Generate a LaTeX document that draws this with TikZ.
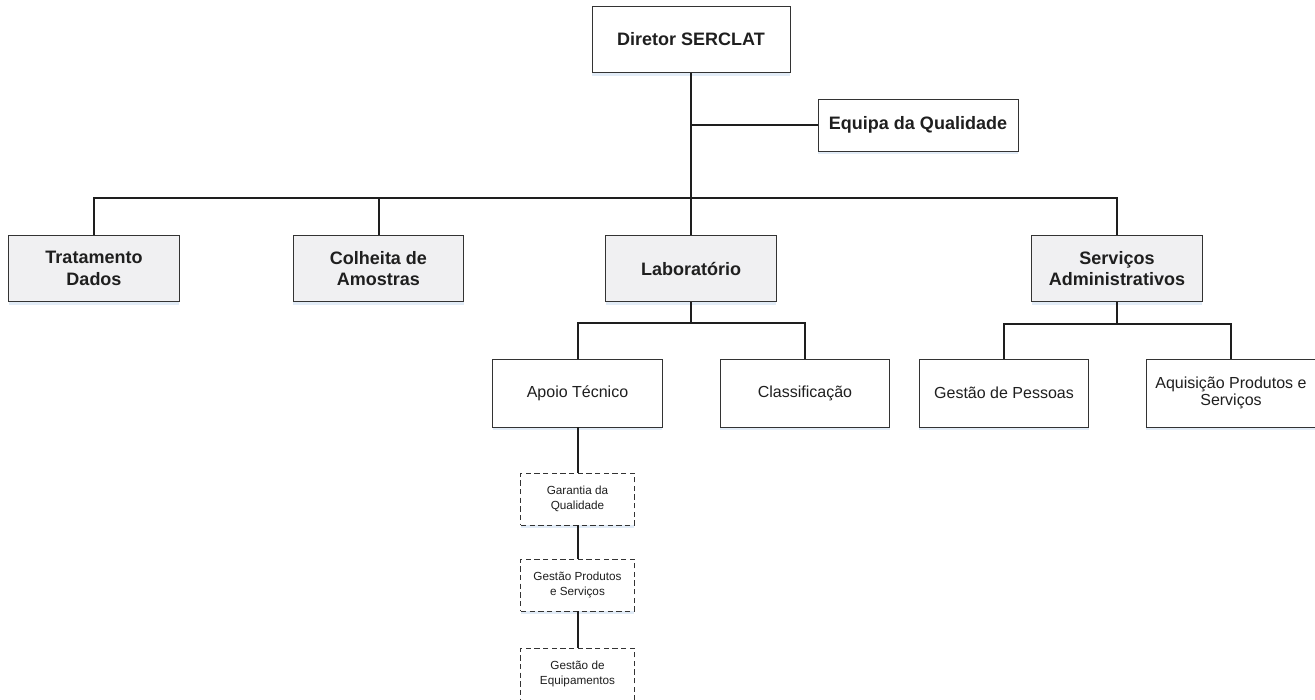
\documentclass[tikz,border=0pt]{standalone}
\usepackage{fontspec}
\setmainfont{Liberation Sans}
\usepackage{xcolor}
\usetikzlibrary{shadows}
\definecolor{boxgray}{RGB}{240,240,242}
\definecolor{linegray}{RGB}{30,30,30}
\definecolor{glowblue}{RGB}{214,228,243}
\tikzset{orgbox/.style={draw=black!80, line width=0.6pt, fill=white, align=center, inner sep=2pt, text=black!88,
   drop shadow={shadow xshift=0pt, shadow yshift=-2.2pt, fill=glowblue, opacity=0.7}},
 headbox/.style={orgbox, font=\bfseries\fontsize{13.5}{16}\selectfont, minimum height=50pt},
 unitbox/.style={headbox, fill=boxgray, minimum width=128pt},
 subbox/.style={orgbox, font=\fontsize{12}{13.3}\selectfont, minimum width=127pt, minimum height=51pt},
 taskbox/.style={orgbox, dash pattern=on 4pt off 2.5pt, font=\fontsize{8.8}{11.2}\selectfont, minimum width=85pt, minimum height=39pt},
 link/.style={draw=linegray, line width=1.5pt},
 }

\begin{document}
\begin{tikzpicture}[x=0.75pt, y=-0.75pt]
        \useasboundingbox (0,0) rectangle (1315,700);

        \node[headbox, minimum width=148.5pt] (dir) at (691, 39.5) {Diretor SERCLAT};
        \node[headbox, minimum width=150pt, minimum height=39pt] (qual) at (918, 125) {Equipa da Qualidade};

        \node[unitbox] (trat) at (94, 268.5) {Tratamento\\Dados};
        \node[unitbox] (colh) at (378.5, 268.5) {Colheita de\\Amostras};
        \node[unitbox] (lab) at (691, 268.5) {Laboratório};
        \node[unitbox] (serv) at (1117, 268.5) {Serviços\\Administrativos};

        \node[subbox] (apoio) at (577.5, 393) {Apoio Técnico};
        \node[subbox] (class) at (805, 393) {Classificação};
        \node[subbox] (pess) at (1004, 393) {Gestão de Pessoas};
        \node[subbox] (aquis) at (1231, 393) {Aquisição Produtos e\\Serviços};

        \foreach \y/\t [count=\i] in {499/{Garantia da\\Qualidade}, 585/{Gestão Produtos\\e Serviços}, 674/{Gestão de\\Equipamentos}} {
            \node[taskbox] (task\i) at (577.5, \y) {\t};
        }

        \coordinate (bus) at (691, 198);
        \coordinate (labbus) at (691, 323);
        \coordinate (servbus) at (1117, 324);

        \draw[link] (dir.south) -- (lab.north);
        \draw[link] (dir.south |- qual.west) -- (qual.west);
        \draw[link] (trat.north) |- (bus) -| (serv.north);
        \draw[link] (colh.north) -- (colh.north |- bus);

        \draw[link] (lab.south) -- (labbus);
        \draw[link] (apoio.north) |- (labbus) -| (class.north);
        \draw[link] (serv.south) -- (servbus);
        \draw[link] (pess.north) |- (servbus) -| (aquis.north);

        \draw[link] (apoio.south) -- (task1.north);
        \foreach \i/\j in {1/2, 2/3} {
            \draw[link] (task\i.south) -- (task\j.north);
        }
    \end{tikzpicture}
\end{document}
